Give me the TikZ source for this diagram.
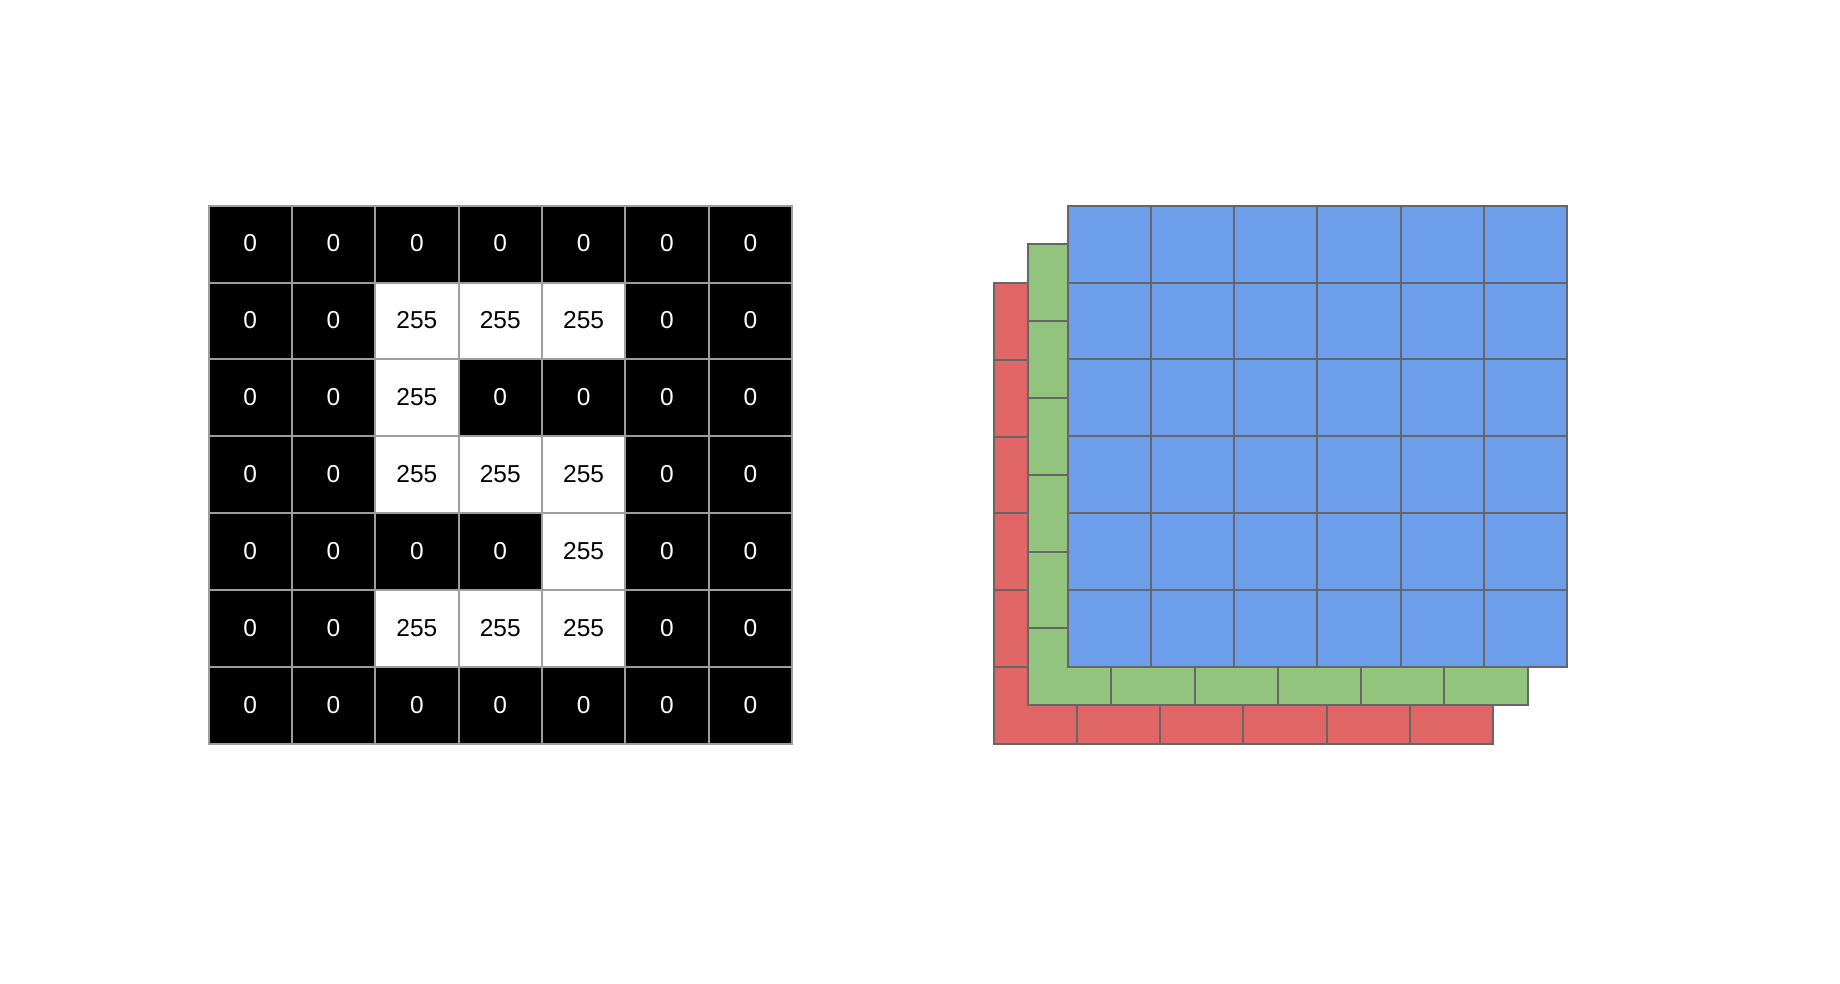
\documentclass[tikz,border=0pt]{standalone}
\usepackage{fontspec}
\setmainfont{Liberation Sans}
\definecolor{gridA}{HTML}{9E9E9E}
\definecolor{gridB}{HTML}{666666}
\definecolor{redc}{HTML}{E06666}
\definecolor{greenc}{HTML}{93C47D}
\definecolor{bluec}{HTML}{6D9EEB}
\begin{document}
\begin{tikzpicture}[x=1pt,y=-1pt,
  pix/.style={draw=gridA, line width=2pt, minimum width=83.36pt, minimum height=76.9pt,
    inner sep=0pt, anchor=north west, font=\fontsize{24.5}{28}\selectfont},
  darkpix/.style={pix, fill=black, text=white},
  lightpix/.style={pix, fill=white, text=black},
  chan/.style={draw=gridB, line width=2pt, minimum width=83.3pt, minimum height=76.8pt,
    inner sep=0pt, anchor=north west}]
\useasboundingbox (0,0) rectangle (1840,984);
\fill[white] (0,0) rectangle (1840,984);
% left grayscale grid
\foreach \row [count=\r from 0] in {{0,0,0,0,0,0,0},{0,0,255,255,255,0,0},{0,0,255,0,0,0,0},{0,0,255,255,255,0,0},{0,0,0,0,255,0,0},{0,0,255,255,255,0,0},{0,0,0,0,0,0,0}}{
  \foreach \v [count=\c from 0] in \row {
    \ifnum\v=0
      \node[darkpix] (L-\r-\c) at ({207.5+\c*83.36},{204.7+\r*76.9}) {\raisebox{1.5pt}{\v}};
    \else
      \node[lightpix] (L-\r-\c) at ({207.5+\c*83.36},{204.7+\r*76.9}) {\raisebox{1.5pt}{\v}};
    \fi
  }
}
% right RGB channel grids
\foreach \nm/\dx/\dy/\col in {R/-74/77.2/redc, G/-39.6/38.5/greenc, B/0/0/bluec}{
  \foreach \r in {0,...,5}{
    \foreach \c in {0,...,5}{
      \node[chan, fill=\col] (\nm-\r-\c) at ({1066.5+\dx+\c*83.3},{204.8+\dy+\r*76.8}) {};
    }
  }
}
\end{tikzpicture}
\end{document}
